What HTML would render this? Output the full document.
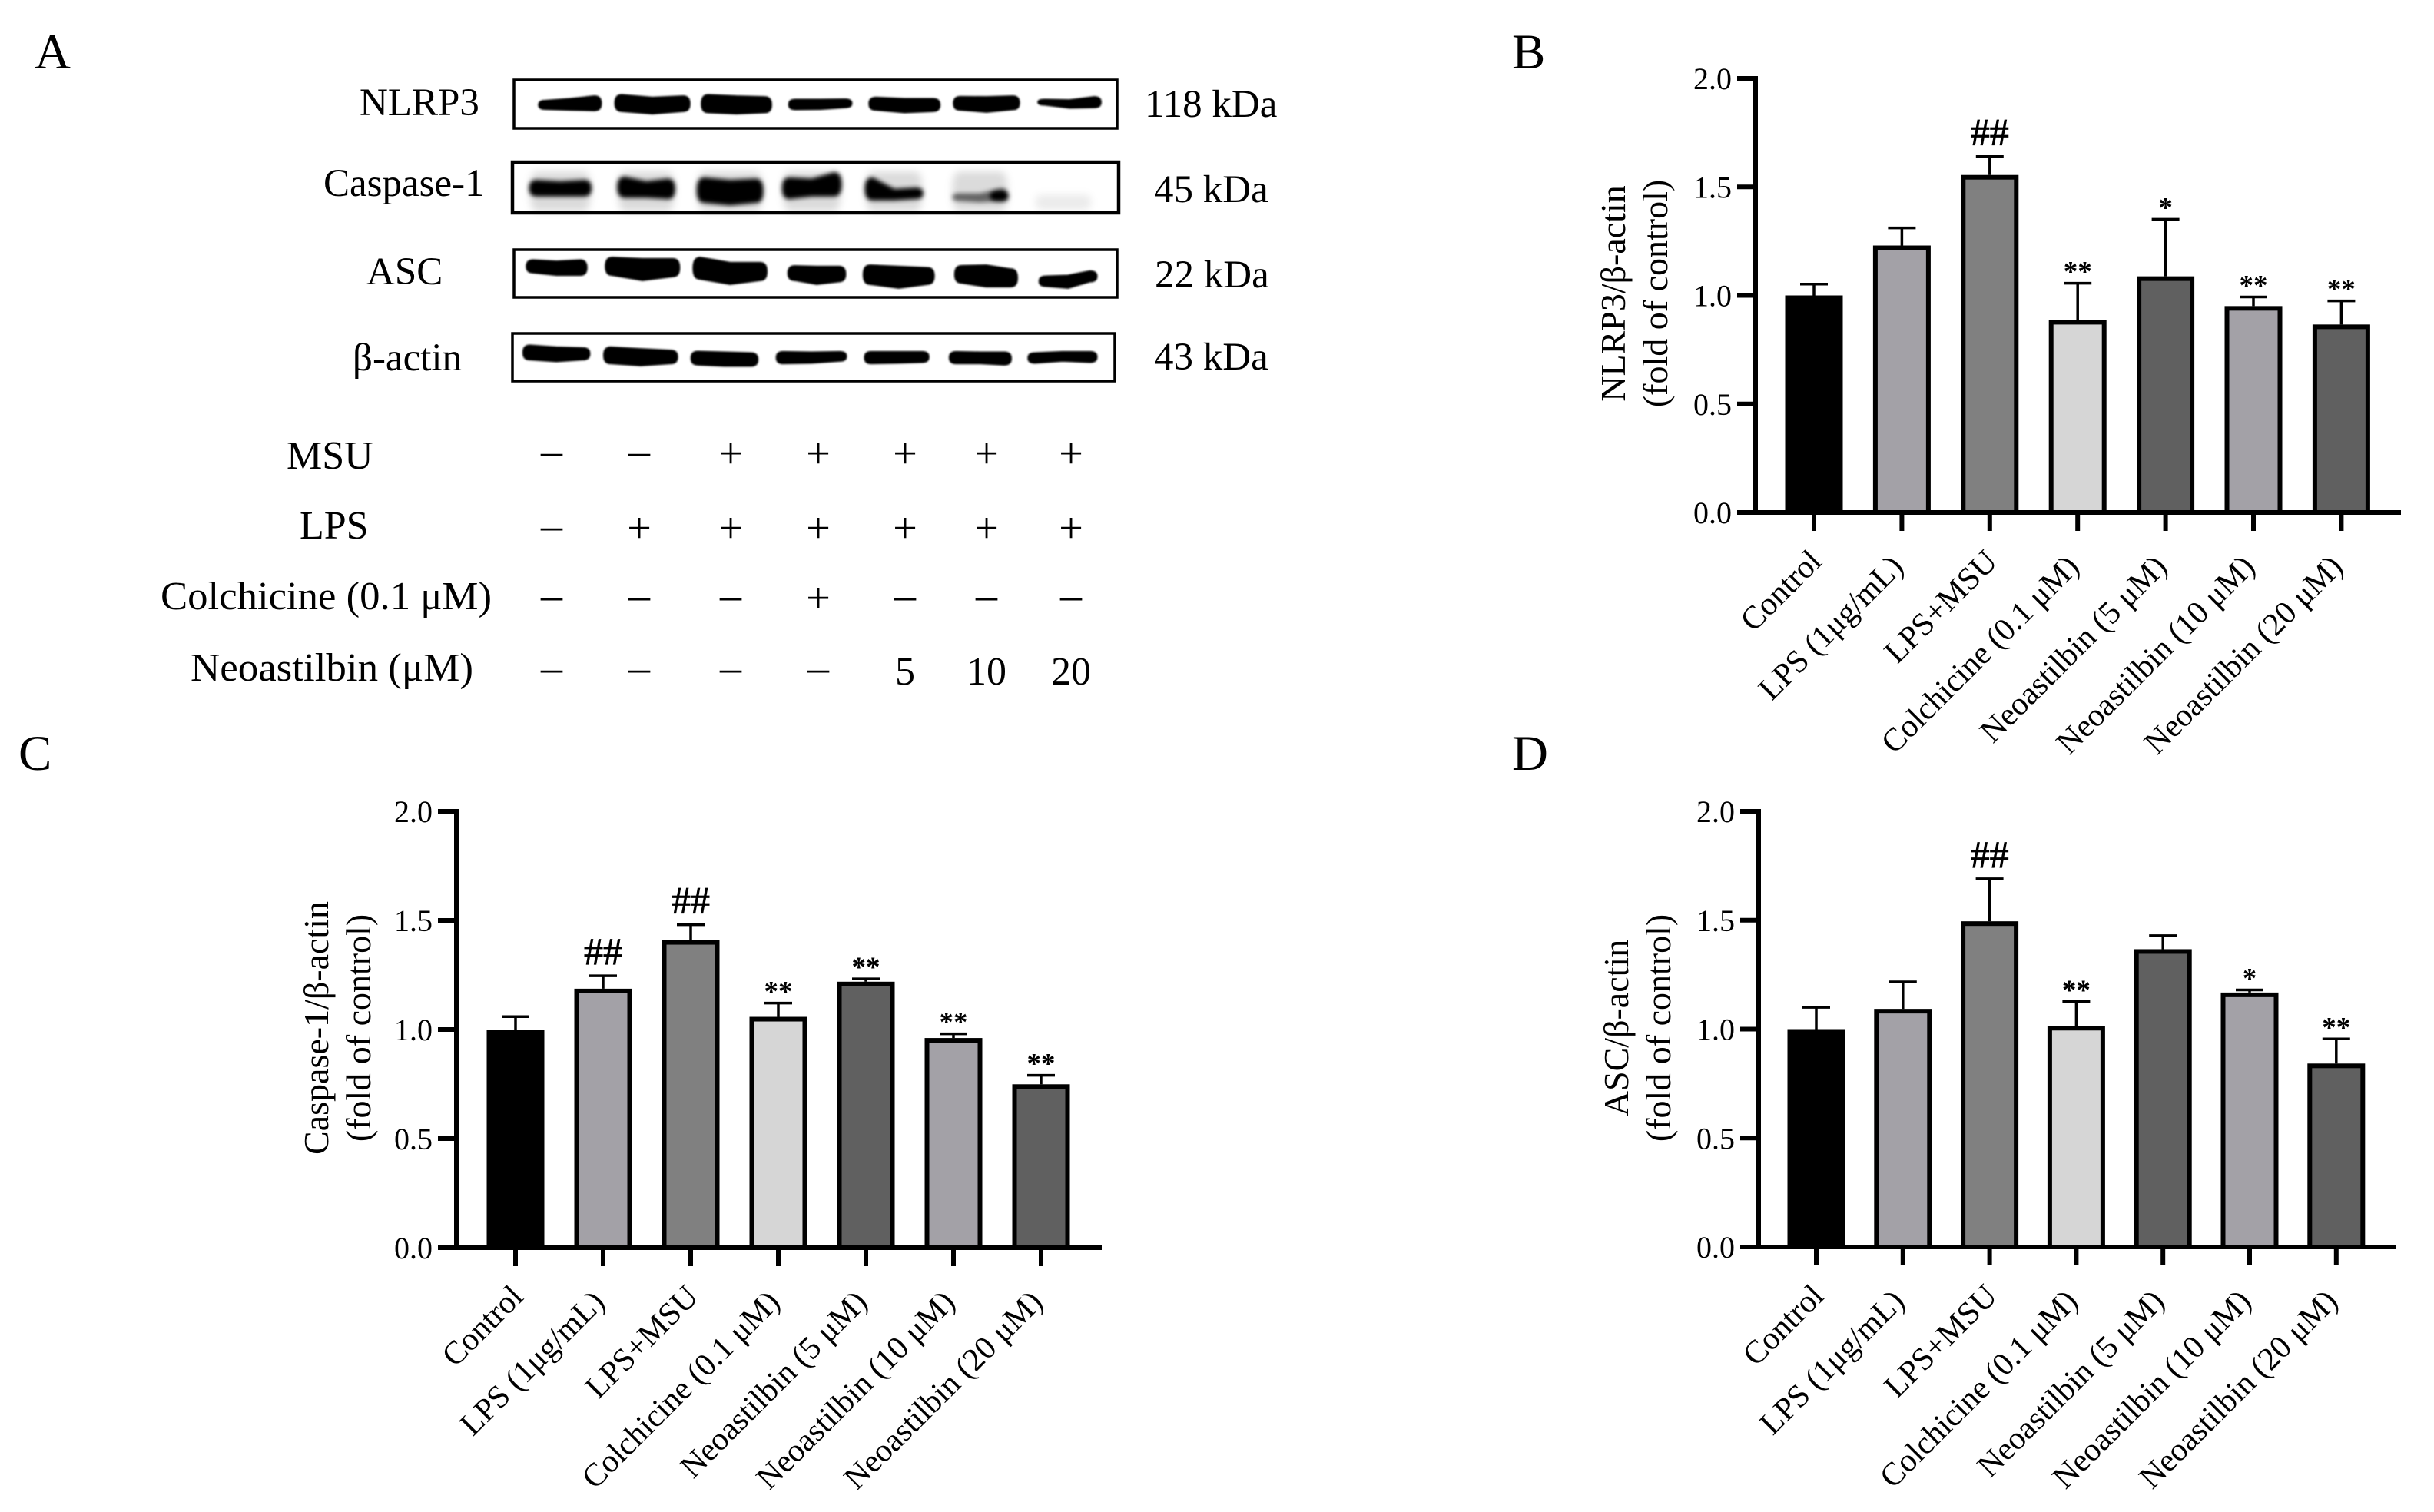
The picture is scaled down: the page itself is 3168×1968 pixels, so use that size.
<!DOCTYPE html>
<html lang="en">
<head>
<meta charset="utf-8">
<title>Neoastilbin western blot figure</title>
<style>
html,body{margin:0;padding:0;background:#fff;}
svg{display:block;}
text{font-family:"Liberation Serif","DejaVu Serif",serif;fill:#000;}
</style>
</head>
<body>
<svg id="figure" xmlns="http://www.w3.org/2000/svg" width="3168" height="1968" viewBox="0 0 3168 1968">
<defs>
<filter id="blur-sharp" x="-5%" y="-20%" width="110%" height="140%"><feGaussianBlur stdDeviation="1"/></filter>
<filter id="blur-soft" x="-5%" y="-30%" width="110%" height="160%"><feGaussianBlur stdDeviation="3"/></filter>
<filter id="blur-wide" x="-5%" y="-30%" width="110%" height="160%"><feGaussianBlur stdDeviation="5"/></filter>
</defs>
<rect width="3168" height="1968" fill="#fff"/>

<text x="45" y="89" font-size="65">A</text>
<text x="1968" y="89" font-size="65">B</text>
<text x="24" y="1002" font-size="65">C</text>
<text x="1968" y="1002" font-size="65">D</text>

<g id="blots"></g>

<g font-size="51">
<text x="468" y="150">NLRP3</text>
<text x="421" y="255">Caspase-1</text>
<text x="477" y="370">ASC</text>
<text x="459" y="482">β-actin</text>
</g>
<g font-size="51">
<text x="1490" y="152">118 kDa</text>
<text x="1502" y="263">45 kDa</text>
<text x="1503" y="374">22 kDa</text>
<text x="1502" y="481">43 kDa</text>
</g>
<g font-size="52">
<text x="373" y="610">MSU</text>
<text x="390" y="701">LPS</text>
<text x="209" y="793" textLength="431" lengthAdjust="spacingAndGlyphs">Colchicine (0.1 μM)</text>
<text x="248" y="886" textLength="368" lengthAdjust="spacingAndGlyphs">Neoastilbin (μM)</text>
</g>
<g id="treatment-grid" font-size="56" text-anchor="middle"></g>

<g id="panel-b"></g>
<g id="panel-c"></g>
<g id="panel-d"></g>
</svg>

<script>
var categories = ["Control", "LPS (1μg/mL)", "LPS+MSU", "Colchicine (0.1 μM)", "Neoastilbin (5 μM)", "Neoastilbin (10 μM)", "Neoastilbin (20 μM)"];
var yTickValues = [0, 0.5, 1, 1.5, 2];
var yTickLabels = ["0.0", "0.5", "1.0", "1.5", "2.0"];

var nlrp3Values = [1.00, 1.23, 1.555, 0.887, 1.088, 0.951, 0.866];
var nlrp3Errors = [0.052, 0.081, 0.085, 0.169, 0.263, 0.042, 0.109];
var nlrp3Marks = ["", "", "##", "**", "*", "**", "**"];

var caspaseValues = [1.00, 1.187, 1.41, 1.058, 1.219, 0.961, 0.749];
var caspaseErrors = [0.059, 0.059, 0.07, 0.063, 0.013, 0.019, 0.041];
var caspaseMarks = ["", "##", "##", "**", "**", "**", "**"];

var ascValues = [1.00, 1.093, 1.495, 1.015, 1.367, 1.168, 0.842];
var ascErrors = [0.10, 0.124, 0.195, 0.111, 0.062, 0.012, 0.113];
var ascMarks = ["", "", "##", "**", "", "*", "**"];

var barFills = ["#000000", "#a3a1a7", "#808080", "#d6d6d6", "#606060", "#a3a1a7", "#606060"];

var SVGNS = "http://www.w3.org/2000/svg";
function make(parent, tag, attrs, text) {
  var el = document.createElementNS(SVGNS, tag);
  for (var k in attrs) { el.setAttribute(k, attrs[k]); }
  if (text !== undefined) { el.textContent = text; }
  parent.appendChild(el);
  return el;
}

function drawChart(opts) {
  var g = document.getElementById(opts.id);
  var y = function (v) { return opts.zeroY - v * (opts.zeroY - opts.topY) / 2; };
  var xAt = function (i) { return opts.firstX + i * opts.step; };

  opts.values.forEach(function (v, i) {
    var c = xAt(i);
    var errTop = y(v + opts.errors[i]);
    var stem = make(g, "line", { x1: c, x2: c, y1: y(v), y2: errTop, stroke: "#000", "stroke-width": 3.5 });
    
    
    var cap = make(g, "line", { x1: c - 18, x2: c + 18, y1: errTop, y2: errTop, stroke: "#000", "stroke-width": 3.5 });
    
    
    var bar = make(g, "rect", { x: c - 34.5, y: y(v) + 3, width: 69, height: opts.zeroY - y(v) - 3, fill: barFills[i], stroke: "#000", "stroke-width": 6 });
    
    
    var mark = opts.marks[i];
    if (mark) {
      var isHash = mark.charAt(0) === "#";
      var note = make(g, "text", { x: c, y: isHash ? errTop - 15 : errTop - 3, "font-size": isHash ? 50 : 37, "font-weight": isHash ? "normal" : "bold", "text-anchor": "middle", stroke: isHash ? "#000" : "none", "stroke-width": isHash ? 0.8 : 0 }, mark);
      
      
    }
    var tick = make(g, "line", { x1: c, x2: c, y1: opts.zeroY, y2: opts.zeroY + 24, stroke: "#000", "stroke-width": 6 });
    
    
    var label = categories[i];
    var paren = label.charAt(label.length - 1) === ")";
    var bx = c + (paren ? 4 : 12);
    var by = opts.zeroY + (paren ? 73 : 66);
    var xl = make(g, "text", { x: bx, y: by, "font-size": 42, "text-anchor": "end", transform: "rotate(-45 " + bx + " " + by + ")" }, label);
    
    
  });

  var yAxis = make(g, "line", { x1: opts.axisX, x2: opts.axisX, y1: opts.topY - 3, y2: opts.zeroY, stroke: "#000", "stroke-width": 6 });
  
  
  var xAxis = make(g, "line", { x1: opts.axisX - 24, x2: opts.xEnd, y1: opts.zeroY, y2: opts.zeroY, stroke: "#000", "stroke-width": 6 });
  
  

  yTickValues.forEach(function (t, i) {
    var ty = y(t);
    var tick = make(g, "line", { x1: opts.axisX - 24, x2: opts.axisX, y1: ty, y2: ty, stroke: "#000", "stroke-width": 6 });
    
    
    var lab = make(g, "text", { x: opts.axisX - 31, y: ty + 14, "font-size": 40, "text-anchor": "end" }, yTickLabels[i]);
    
    
  });

  var t1 = make(g, "text", { x: 0, y: 0, "font-size": 46, "text-anchor": "middle", transform: "translate(" + opts.title1X + " " + opts.titleY + ") rotate(-90)" }, opts.title1);
  
  
  var t2 = make(g, "text", { x: 0, y: 0, "font-size": 46, "text-anchor": "middle", transform: "translate(" + opts.title2X + " " + opts.titleY + ") rotate(-90)" }, "(fold of control)");
  
  
}

drawChart({ id: "panel-b", values: nlrp3Values, errors: nlrp3Errors, marks: nlrp3Marks, axisX: 2285, xEnd: 3125, zeroY: 667, topY: 102, firstX: 2361, step: 114.4, title1: "NLRP3/β-actin", title1X: 2115, title2X: 2170, titleY: 382 });
drawChart({ id: "panel-c", values: caspaseValues, errors: caspaseErrors, marks: caspaseMarks, axisX: 594, xEnd: 1434, zeroY: 1624, topY: 1056, firstX: 671, step: 114, title1: "Caspase-1/β-actin", title1X: 427, title2X: 482, titleY: 1338 });
drawChart({ id: "panel-d", values: ascValues, errors: ascErrors, marks: ascMarks, axisX: 2289, xEnd: 3119, zeroY: 1623, topY: 1056, firstX: 2364, step: 112.8, title1: "ASC/β-actin", title1X: 2119, title2X: 2174, titleY: 1338 });

/* western blot panel */
var blots = document.getElementById("blots");
var SX = 1 / 1.865, SY = 1 / 3;
function band(parent, name, x0, x1, tl, tm, tr, bl, bm, br, fill, op) {
  var xm = (x0 + x1) / 2, r = 16;
  var d = "M" + x0 + " " + (tl + bl) / 2 +
    " Q" + x0 + " " + tl + " " + (x0 + r) + " " + tl +
    " Q" + ((x0 + r + xm) / 2) + " " + ((tl + tm) / 2) + " " + xm + " " + tm +
    " Q" + ((xm + x1 - r) / 2) + " " + ((tm + tr) / 2) + " " + (x1 - r) + " " + tr +
    " Q" + x1 + " " + tr + " " + x1 + " " + (tr + br) / 2 +
    " Q" + x1 + " " + br + " " + (x1 - r) + " " + br +
    " Q" + ((xm + x1 - r) / 2) + " " + ((bm + br) / 2) + " " + xm + " " + bm +
    " Q" + ((x0 + r + xm) / 2) + " " + ((bl + bm) / 2) + " " + (x0 + r) + " " + bl +
    " Q" + x0 + " " + bl + " " + x0 + " " + (tl + bl) / 2 + " Z";
  var solid = op === undefined;
  var p = make(parent, "path", { d: d, fill: fill || "#000", "fill-opacity": solid ? 1 : op, stroke: solid ? "#000" : "none", "stroke-width": solid ? 5 : 0 });
  
  
}
function layer(filterId) {
  var outer = make(blots, "g", { filter: "url(#" + filterId + ")" });
  return make(outer, "g", { transform: "translate(640 80) scale(" + SX + " " + SY + ")" });
}

var smear = layer("blur-wide");
[[93,240],[307,443],[500,657],[707,847],[908,1045],[1118,1252]].forEach(function (s) {
  band(smear, "caspase-band-smear", s[0], s[1], 430, 430, 430, 585, 585, 585, "#000", 0.14);
});
band(smear, "caspase-band-faint", 1320, 1455, 520, 520, 520, 580, 580, 580, "#000", 0.08);

var soft = layer("blur-soft");
band(soft, "caspase-band-1", 93, 240, 465, 470, 465, 525, 525, 525);
band(soft, "caspase-band-2", 307, 443, 452, 470, 460, 530, 530, 535);
band(soft, "caspase-band-3", 500, 657, 455, 465, 460, 550, 560, 550);
band(soft, "caspase-band-4", 707, 847, 455, 460, 435, 535, 525, 525);
band(soft, "caspase-band-5", 908, 1045, 455, 500, 495, 540, 540, 535);
band(soft, "caspase-band-6", 1118, 1252, 515, 515, 495, 545, 550, 545, "#000", 0.55);
band(soft, "caspase-band-6-core", 1212, 1252, 505, 505, 505, 545, 545, 545);

var sharp = layer("blur-sharp");
band(sharp, "nlrp3-band-1", 115, 265, 152, 145, 135, 187, 190, 192);
band(sharp, "nlrp3-band-2", 300, 480, 130, 140, 135, 195, 205, 195);
band(sharp, "nlrp3-band-3", 510, 678, 130, 135, 138, 200, 205, 200);
band(sharp, "nlrp3-band-4", 722, 873, 148, 148, 147, 188, 187, 180);
band(sharp, "nlrp3-band-5", 917, 1087, 140, 145, 145, 190, 200, 195);
band(sharp, "nlrp3-band-6", 1122, 1280, 137, 138, 135, 190, 198, 188);
band(sharp, "nlrp3-band-7", 1327, 1478, 148, 150, 138, 170, 182, 180);

band(sharp, "asc-band-1", 85, 230, 775, 780, 775, 825, 835, 835);
band(sharp, "asc-band-2", 277, 455, 765, 770, 770, 835, 855, 840);
band(sharp, "asc-band-3", 490, 667, 765, 785, 785, 850, 870, 855);
band(sharp, "asc-band-4", 720, 858, 798, 800, 800, 855, 870, 860);
band(sharp, "asc-band-5", 903, 1073, 795, 800, 805, 870, 885, 870);
band(sharp, "asc-band-6", 1125, 1275, 797, 795, 810, 865, 880, 880);
band(sharp, "asc-band-7", 1330, 1468, 838, 835, 818, 878, 885, 860);

band(sharp, "actin-band-1", 77, 237, 1108, 1115, 1118, 1165, 1172, 1165);
band(sharp, "actin-band-2", 273, 450, 1115, 1122, 1128, 1180, 1188, 1180);
band(sharp, "actin-band-3", 485, 645, 1132, 1135, 1138, 1185, 1190, 1190);
band(sharp, "actin-band-4", 692, 860, 1133, 1135, 1133, 1180, 1178, 1170);
band(sharp, "actin-band-5", 906, 1060, 1133, 1133, 1133, 1180, 1178, 1175);
band(sharp, "actin-band-6", 1112, 1260, 1133, 1135, 1135, 1180, 1180, 1185);
band(sharp, "actin-band-7", 1303, 1468, 1138, 1133, 1133, 1178, 1170, 1175);

function box(name, x, y, w, h, sw) {
  var b = make(blots, "rect", { x: x, y: y, width: w, height: h, fill: "none", stroke: "#000", "stroke-width": sw });
  
  
}
box("nlrp3-blot-frame", 669, 104, 785, 63, 3.5);
box("caspase-1-blot-frame", 667, 211, 789, 66, 4.5);
box("asc-blot-frame", 669, 325, 785, 62, 3.5);
box("beta-actin-blot-frame", 667, 434, 784, 62, 3.5);

/* treatment grid */
var gridColumns = [718, 832, 951, 1065, 1178, 1284, 1394];
var gridRows = [
  { y: 590, cells: ["–", "–", "+", "+", "+", "+", "+"] },
  { y: 687, cells: ["–", "+", "+", "+", "+", "+", "+"] },
  { y: 778, cells: ["–", "–", "–", "+", "–", "–", "–"] },
  { y: 872, cells: ["–", "–", "–", "–", "5", "10", "20"] }
];
var grid = document.getElementById("treatment-grid");
gridRows.forEach(function (row) {
  row.cells.forEach(function (s, i) {
    var isNum = /\d/.test(s);
    var offset = s === "+" ? 19 : 15;
    var t = make(grid, "text", { x: gridColumns[i], y: isNum ? 891 : row.y + offset, "font-size": isNum ? 52 : 56 }, s);
    
    
  });
});
</script>
</body>
</html>
